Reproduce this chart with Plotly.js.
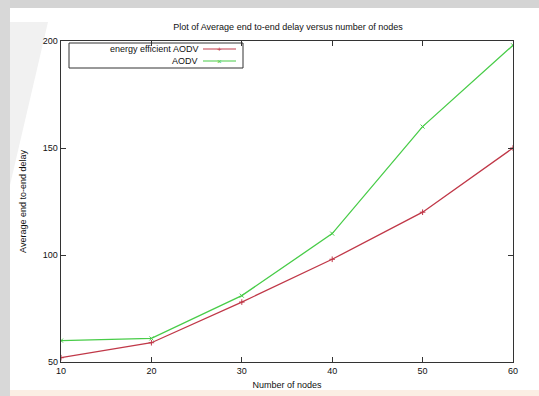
<!DOCTYPE html>
<html>
<head>
<meta charset="utf-8">
<script src="https://cdn.plot.ly/plotly-3.0.1.min.js"></script>
<style>html,body{margin:0;padding:0;background:#fff;}#chart{width:539px;height:396px;}</style>
</head>
<body>
<div id="chart"></div>
<script>
const nodes = [10, 20, 30, 40, 50, 60];
const energyEfficientAODV = [52, 59, 78, 98, 120, 150];
const aodv = [60, 61, 81, 110, 160, 198];
const seriesNames = ["energy efficient AODV", "AODV"];
const xTicks = [10, 20, 30, 40, 50, 60];
const yTicks = [50, 100, 150, 200];

const L = 61, R = 513, T = 41, B = 362;
const W = 539, H = 396;
const px = x => (x - L) / (R - L);
const py = y => (B - y) / (B - T);

const RED = "#c03848", GREEN = "#48cc48";
const font = {family: "Liberation Sans, Arial, sans-serif", size: 9, color: "#111"};

const traces = [
  {x: nodes, y: energyEfficientAODV, name: seriesNames[0], type: "scatter", mode: "lines+markers",
   line: {color: RED, width: 1.3}, marker: {symbol: "cross-thin", size: 4, color: RED, line: {color: RED, width: 1}}},
  {x: nodes, y: aodv, name: seriesNames[1], type: "scatter", mode: "lines+markers",
   line: {color: GREEN, width: 1.3}, marker: {symbol: "x-thin", size: 4, color: GREEN, line: {color: GREEN, width: 1}}}
];

const shapes = [
  {type: "rect", xref: "paper", yref: "paper", x0: px(0), x1: px(W), y0: py(0), y1: py(8), fillcolor: "#d4d4d4", line: {width: 0}, layer: "below"},
  {type: "rect", xref: "paper", yref: "paper", x0: px(0), x1: px(10), y0: py(0), y1: py(H), fillcolor: "#d8d8d8", line: {width: 0}, layer: "below"},
  {type: "rect", xref: "paper", yref: "paper", x0: px(10), x1: px(W), y0: py(390), y1: py(H), fillcolor: "#fbeee4", line: {width: 0}, layer: "below"},
  {type: "path", xref: "paper", yref: "paper", layer: "below", fillcolor: "#f1f1f1", line: {width: 0},
   path: `M ${px(10)} ${py(22)} L ${px(48)} ${py(22)} L ${px(10)} ${py(185)} Z`},
  {type: "rect", xref: "paper", yref: "paper", x0: px(69), x1: px(243), y0: py(43), y1: py(68), line: {color: "#333", width: 1}, fillcolor: "rgba(0,0,0,0)"},
  {type: "line", xref: "paper", yref: "paper", x0: px(203), x1: px(236), y0: py(49), y1: py(49), line: {color: RED, width: 1.2}},
  {type: "line", xref: "paper", yref: "paper", x0: px(203), x1: px(236), y0: py(61), y1: py(61), line: {color: GREEN, width: 1.2}}
];

const annotations = [
  {xref: "paper", yref: "paper", x: px(200), y: py(49), xanchor: "right", yanchor: "middle", text: seriesNames[0], showarrow: false, font: font},
  {xref: "paper", yref: "paper", x: px(200), y: py(61), xanchor: "right", yanchor: "middle", text: seriesNames[1], showarrow: false, font: font},
  {xref: "paper", yref: "paper", x: px(219), y: py(49), xanchor: "center", yanchor: "middle", text: "+", showarrow: false, font: {family: font.family, size: 8, color: RED}},
  {xref: "paper", yref: "paper", x: px(219), y: py(61), xanchor: "center", yanchor: "middle", text: "×", showarrow: false, font: {family: font.family, size: 8, color: GREEN}}
];

const layout = {
  width: W, height: H,
  margin: {l: L, r: W - R, t: T, b: H - B, pad: 0},
  paper_bgcolor: "#ffffff", plot_bgcolor: "rgba(0,0,0,0)",
  showlegend: false,
  title: {text: "Plot of Average end to-end delay versus number of nodes", font: font, x: px(288), xref: "paper", xanchor: "center", y: 1 - 27 / H, yanchor: "middle"},
  xaxis: {range: [10, 60], tickvals: xTicks, ticktext: xTicks.map(String), ticks: "inside", ticklen: 5, tickcolor: "#333",
    showline: true, mirror: "ticks", linecolor: "#333", linewidth: 1.3, showgrid: false, zeroline: false,
    tickfont: font, title: {text: "Number of nodes", font: font, standoff: 6}},
  yaxis: {range: [50, 200], tickvals: yTicks, ticktext: yTicks.map(String), ticks: "inside", ticklen: 5, tickcolor: "#333",
    showline: true, mirror: "ticks", linecolor: "#333", linewidth: 1.3, showgrid: false, zeroline: false,
    tickfont: font, title: {text: "Average end to-end delay", font: font, standoff: 14}},
  shapes: shapes,
  annotations: annotations
};

Plotly.newPlot("chart", traces, layout, {displayModeBar: false, staticPlot: true});
</script>
</body>
</html>
